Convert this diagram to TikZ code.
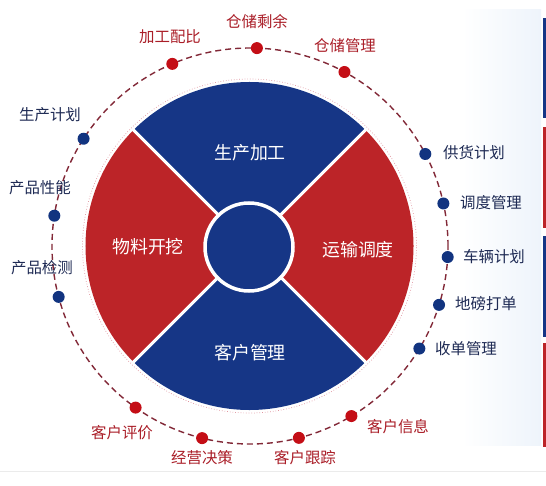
\documentclass[tikz,border=0pt]{standalone}
\usepackage{fontspec}
\setmainfont{Noto Sans CJK SC}
\definecolor{qblue}{RGB}{22,54,134}
\definecolor{qred}{RGB}{188,36,40}
\definecolor{dred}{RGB}{196,14,22}
\definecolor{dblue}{RGB}{18,52,128}
\definecolor{lred}{RGB}{170,30,40}
\definecolor{lblue}{RGB}{30,42,84}
\definecolor{ring}{RGB}{130,40,55}
\definecolor{pinkdot}{RGB}{225,150,160}
\definecolor{bgblue}{RGB}{238,244,251}
\tikzset{
  dotr/.style={circle,fill=dred,inner sep=0pt,minimum size=12bp},
  dotb/.style={circle,fill=dblue,inner sep=0pt,minimum size=12bp},
  labr/.style={text=lred,font=\fontsize{15.5}{15.5}\selectfont,inner sep=0pt},
  labb/.style={text=lblue,font=\fontsize{15.5}{15.5}\selectfont,inner sep=0pt},
  qlab/.style={text=white,font=\fontsize{18}{18}\selectfont,inner sep=0pt},
  sep/.style={white,line width=3bp}
}
\begin{document}
\begin{tikzpicture}[x=1bp,y=-1bp]
\useasboundingbox (0,0) rectangle (546,486);
\fill[white] (0,0) rectangle (546,486);
% faint background at right
\shade[left color=white,right color=bgblue] (462,10) rectangle (541,445);
% edge bars
\fill[qblue] (543,18) rectangle (546,118);
\fill[qred] (543,127) rectangle (546,228);
\fill[qblue] (543,236) rectangle (546,337);
\fill[qred] (543,343) rectangle (546,447);
\draw[black!8,line width=0.8bp] (0,471) -- (546,471);
% centre
\coordinate (C) at (250,246);
\coordinate (D) at (249.5,246);
% dashed ring
\draw[ring,line width=1.4bp,dash pattern=on 6bp off 4bp] (C) circle[radius=198bp];
% disc
\fill[qblue] (D) -- ([shift={(45:164bp)}]D) arc[start angle=45,end angle=135,radius=164bp] -- cycle;
\fill[qred] (D) -- ([shift={(135:164bp)}]D) arc[start angle=135,end angle=225,radius=164bp] -- cycle;
\fill[qblue] (D) -- ([shift={(225:164bp)}]D) arc[start angle=225,end angle=315,radius=164bp] -- cycle;
\fill[qred] (D) -- ([shift={(-45:164bp)}]D) arc[start angle=-45,end angle=45,radius=164bp] -- cycle;
\draw[pinkdot,line width=0.7bp,dotted] (D) circle[radius=167bp];
\foreach \a in {45,135,225,315}
  \draw[sep] (D) -- ([shift={(\a:166bp)}]D);
\node[circle,fill=qblue,draw=white,line width=3.5bp,minimum size=88bp,inner sep=0pt] (hub) at (249,247) {};
% quadrant labels
\node[qlab] (q1) at (250,153) {生产加工};
\node[qlab] (q2) at (148,247) {物料开挖};
\node[qlab] (q3) at (358,250) {运输调度};
\node[qlab] (q4) at (250,353) {客户管理};
% dots
\node[dotr] (p1) at ([shift={(113.1:198bp)}]C) {};
\node[dotr] (p2) at ([shift={(88:198bp)}]C) {};
\node[dotr] (p3) at ([shift={(61.5:198bp)}]C) {};
\node[dotb] (p4) at ([shift={(147.2:198bp)}]C) {};
\node[dotb] (p5) at ([shift={(171.2:198bp)}]C) {};
\node[dotb] (p6) at ([shift={(194.9:198bp)}]C) {};
\node[dotb] (p7) at ([shift={(27.7:198bp)}]C) {};
\node[dotb] (p8) at ([shift={(12.4:198bp)}]C) {};
\node[dotb] (p9) at ([shift={(-3.2:198bp)}]C) {};
\node[dotb] (p10) at ([shift={(-17.3:198bp)}]C) {};
\node[dotb] (p11) at ([shift={(-31.2:198bp)}]C) {};
\node[dotr] (p12) at ([shift={(234.7:198bp)}]C) {};
\node[dotr] (p13) at ([shift={(256:198bp)}]C) {};
\node[dotr] (p14) at ([shift={(284.3:198bp)}]C) {};
\node[dotr] (p15) at ([shift={(300.8:198bp)}]C) {};
% labels
\node[labr] (l1) at (170,37) {加工配比};
\node[labr] (l2) at (257,22) {仓储剩余};
\node[labr] (l3) at (345,46) {仓储管理};
\node[labb] (l4) at (50,115) {生产计划};
\node[labb] (l5) at (40,188) {产品性能};
\node[labb] (l6) at (42,268) {产品检测};
\node[labb] (l7) at (474,153) {供货计划};
\node[labb] (l8) at (491,203) {调度管理};
\node[labb] (l9) at (494,257) {车辆计划};
\node[labb] (l10) at (486,304) {地磅打单};
\node[labb] (l11) at (466,349) {收单管理};
\node[labr] (l12) at (122,433) {客户评价};
\node[labr] (l13) at (202,458) {经营决策};
\node[labr] (l14) at (305,458) {客户跟踪};
\node[labr] (l15) at (398,427) {客户信息};
\end{tikzpicture}
\end{document}
